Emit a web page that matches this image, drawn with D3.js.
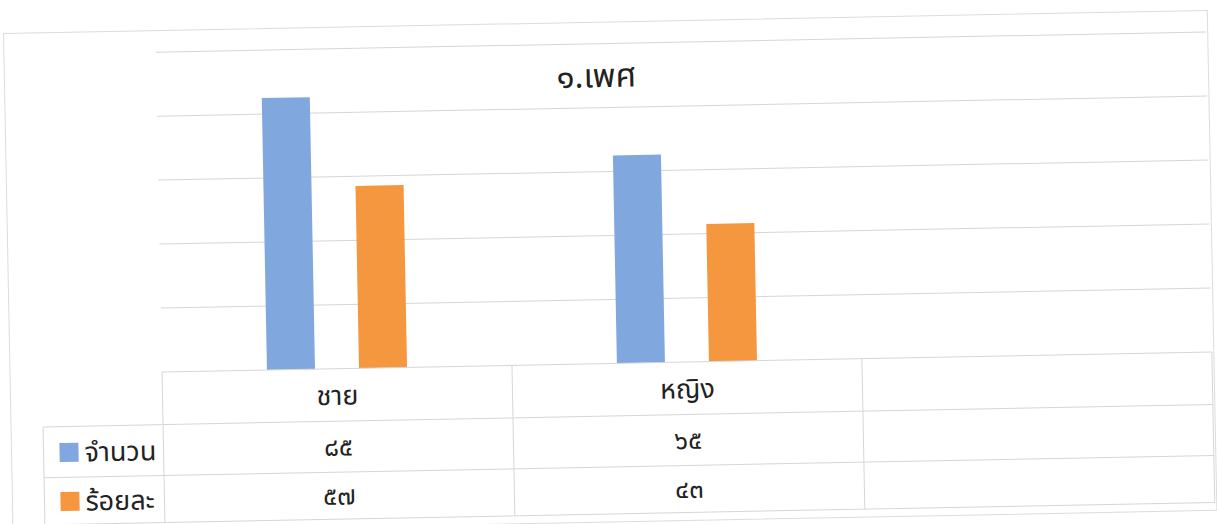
<!DOCTYPE html>
<html>
<head>
<meta charset="utf-8">
<script src="https://cdn.jsdelivr.net/npm/d3@7"></script>
<style>
  body { margin: 0; background: #fff; }
  svg { display: block; }
  text { font-family: "Noto Sans Thai", "Noto Sans Thai UI", "Noto Sans", "DejaVu Sans", sans-serif; fill: #222; }
</style>
</head>
<body>
<svg width="1217" height="524"></svg>
<script>
// data
const categories = ["ชาย", "หญิง", ""];
const seriesNames = ["จำนวน", "ร้อยละ"];
const countValues = [85, 65, null];
const percentValues = [57, 43, null];
const yTicks = [0, 20, 40, 60, 80, 100];
const title = "๑.เพศ";
const colors = ["#80a8de", "#f4973f"];

const thaiDigits = "๐๑๒๓๔๕๖๗๘๙";
const toThai = v => v == null ? "" : String(v).replace(/[0-9]/g, d => thaiDigits[+d]);

const rows = categories.map((c, i) => ({ cat: c, values: [countValues[i], percentValues[i]] }));

const plot = { left: 160, right: 1210, top: 43.5, bottom: 363.5 };
const tableRows = [363.5, 416, 467, 514];
const legendLeft = 40;
const gridColor = "#d6d6d6";

const svg = d3.select("svg");

// the scan is slightly tilted
const g = svg.append("g")
  .attr("transform", "rotate(-1.1, 608, 262)");

// outer border
g.append("rect")
  .attr("x", 8).attr("y", 22)
  .attr("width", 1204).attr("height", 500)
  .attr("fill", "none")
  .attr("stroke", "#dcdcdc");

const x = d3.scaleBand()
  .domain(categories)
  .range([plot.left, plot.right]);

const xSub = d3.scaleBand()
  .domain(seriesNames)
  .range([0, x.bandwidth()])
  .paddingInner(0.478)
  .paddingOuter(1.14);

const y = d3.scaleLinear()
  .domain([0, 100])
  .range([plot.bottom, plot.top]);

//gridlines
g.append("g")
  .selectAll("line")
  .data(yTicks.filter(t => t > 0))
  .enter()
  .append("line")
  .attr("x1", plot.left)
  .attr("x2", plot.right)
  .attr("y1", d => y(d))
  .attr("y2", d => y(d))
  .attr("stroke", gridColor)
  .attr("stroke-width", 1);

//title
g.append("text")
  .attr("x", 600)
  .attr("y", 87)
  .attr("text-anchor", "middle")
  .attr("font-size", "33px")
  .text(title);

//bars
const groups = g.append("g")
  .selectAll("g")
  .data(rows)
  .enter()
  .append("g")
  .attr("transform", d => `translate(${x(d.cat)},0)`);

groups.selectAll("rect")
  .data(d => d.values.map((v, i) => ({ name: seriesNames[i], value: v, i })).filter(d => d.value != null))
  .enter()
  .append("rect")
  .attr("x", d => xSub(d.name))
  .attr("width", xSub.bandwidth())
  .attr("y", d => y(d.value))
  .attr("height", d => y(0) - y(d.value))
  .attr("fill", d => colors[d.i]);

// data table
const table = g.append("g");

// horizontal lines
table.append("line")
  .attr("x1", plot.left).attr("x2", plot.right)
  .attr("y1", tableRows[0]).attr("y2", tableRows[0])
  .attr("stroke", gridColor);
tableRows.slice(1).forEach(ty => {
  table.append("line")
    .attr("x1", legendLeft).attr("x2", plot.right)
    .attr("y1", ty).attr("y2", ty)
    .attr("stroke", gridColor);
});

// vertical lines
categories.forEach(c => {
  table.append("line")
    .attr("x1", x(c)).attr("x2", x(c))
    .attr("y1", tableRows[0]).attr("y2", tableRows[3])
    .attr("stroke", gridColor);
});
table.append("line")
  .attr("x1", plot.right).attr("x2", plot.right)
  .attr("y1", tableRows[0]).attr("y2", tableRows[3])
  .attr("stroke", gridColor);
table.append("line")
  .attr("x1", legendLeft).attr("x2", legendLeft)
  .attr("y1", tableRows[1]).attr("y2", tableRows[3])
  .attr("stroke", gridColor);

// header
table.selectAll(".cat")
  .data(categories)
  .enter()
  .append("text")
  .attr("class", "cat")
  .attr("x", d => x(d) + x.bandwidth() / 2)
  .attr("y", (tableRows[0] + tableRows[1]) / 2 + 10)
  .attr("text-anchor", "middle")
  .attr("font-size", "27px")
  .text(d => d);

// value rows
seriesNames.forEach((name, si) => {
  const top = tableRows[si + 1], bottom = tableRows[si + 2];
  const mid = (top + bottom) / 2;

  table.append("rect")
    .attr("x", 56)
    .attr("y", mid - 9)
    .attr("width", 19)
    .attr("height", 19)
    .attr("fill", colors[si]);

  table.append("text")
    .attr("x", 81)
    .attr("y", mid + 10)
    .attr("font-size", "27px")
    .text(name);

  table.selectAll(".val" + si)
    .data(rows)
    .enter()
    .append("text")
    .attr("class", "val" + si)
    .attr("x", d => x(d.cat) + x.bandwidth() / 2)
    .attr("y", mid + 9)
    .attr("text-anchor", "middle")
    .attr("font-size", "26px")
    .text(d => toThai(d.values[si]));
});
</script>
</body>
</html>
